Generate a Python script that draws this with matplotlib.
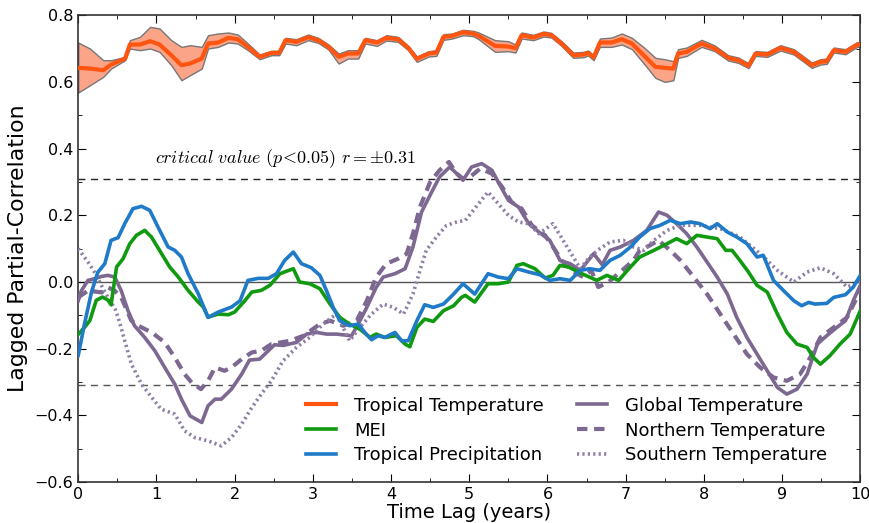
import matplotlib
matplotlib.use("Agg")
import matplotlib.pyplot as plt
from matplotlib.ticker import MultipleLocator

# tropical temperature (centre line and uncertainty band)
tt_x = [0.0, 0.15, 0.32, 0.42, 0.6, 0.66, 0.79, 0.92, 1.04, 1.19, 1.32, 1.43, 1.58, 1.66, 1.79,
        1.92, 2.04, 2.17, 2.32, 2.47, 2.57, 2.65, 2.79, 2.94, 3.07, 3.2, 3.33, 3.45, 3.58, 3.67,
        3.82, 3.94, 4.09, 4.22, 4.33, 4.48, 4.58, 4.67, 4.78, 4.92, 5.05, 5.12, 5.33, 5.5, 5.59,
        5.67, 5.82, 5.95, 6.05, 6.18, 6.33, 6.46, 6.52, 6.59, 6.67, 6.82, 6.95, 7.08, 7.25, 7.38,
        7.5, 7.61, 7.67, 7.78, 7.97, 8.14, 8.31, 8.44, 8.57, 8.66, 8.81, 8.98, 9.15, 9.38, 9.49,
        9.57, 9.66, 9.81, 9.96, 10.0]
tt_y = [0.642, 0.640, 0.635, 0.652, 0.670, 0.712, 0.712, 0.722, 0.712, 0.680, 0.650, 0.655, 0.670, 0.715, 0.718,
        0.732, 0.728, 0.705, 0.675, 0.687, 0.687, 0.725, 0.720, 0.734, 0.725, 0.705, 0.675, 0.685, 0.685, 0.725,
        0.718, 0.732, 0.728, 0.702, 0.669, 0.685, 0.688, 0.735, 0.738, 0.749, 0.745, 0.738, 0.708, 0.706, 0.701,
        0.740, 0.733, 0.744, 0.740, 0.715, 0.680, 0.682, 0.687, 0.673, 0.718, 0.718, 0.728, 0.715, 0.675, 0.645,
        0.642, 0.640, 0.685, 0.690, 0.715, 0.700, 0.672, 0.665, 0.648, 0.685, 0.682, 0.702, 0.690, 0.650, 0.660,
        0.662, 0.695, 0.690, 0.712, 0.712]
tt_lo = [0.568, 0.590, 0.615, 0.640, 0.665, 0.700, 0.695, 0.700, 0.690, 0.650, 0.605, 0.620, 0.640, 0.700, 0.705,
         0.718, 0.715, 0.695, 0.668, 0.680, 0.680, 0.715, 0.710, 0.725, 0.717, 0.697, 0.655, 0.670, 0.670, 0.715,
         0.708, 0.724, 0.720, 0.695, 0.660, 0.676, 0.678, 0.726, 0.730, 0.740, 0.737, 0.728, 0.690, 0.692, 0.688,
         0.730, 0.725, 0.736, 0.733, 0.708, 0.672, 0.674, 0.679, 0.665, 0.705, 0.705, 0.712, 0.698, 0.650, 0.612,
         0.600, 0.605, 0.672, 0.678, 0.705, 0.692, 0.664, 0.657, 0.641, 0.678, 0.675, 0.694, 0.682, 0.642, 0.652,
         0.654, 0.688, 0.683, 0.705, 0.705]
tt_hi = [0.718, 0.700, 0.665, 0.665, 0.675, 0.725, 0.735, 0.765, 0.760, 0.725, 0.705, 0.710, 0.705, 0.740, 0.745,
         0.748, 0.742, 0.715, 0.682, 0.693, 0.693, 0.732, 0.728, 0.742, 0.732, 0.712, 0.685, 0.695, 0.695, 0.732,
         0.725, 0.740, 0.735, 0.708, 0.676, 0.692, 0.695, 0.743, 0.745, 0.756, 0.753, 0.748, 0.725, 0.722, 0.712,
         0.748, 0.741, 0.751, 0.747, 0.722, 0.688, 0.690, 0.694, 0.680, 0.730, 0.733, 0.745, 0.732, 0.700, 0.672,
         0.668, 0.662, 0.698, 0.703, 0.726, 0.709, 0.680, 0.673, 0.656, 0.692, 0.690, 0.710, 0.698, 0.658, 0.668,
         0.670, 0.703, 0.698, 0.719, 0.719]

mei_x = [0.0, 0.08, 0.15, 0.23, 0.31, 0.38, 0.42, 0.49, 0.574, 0.66, 0.744, 0.85, 0.936, 1.04, 1.17,
         1.28, 1.405, 1.535, 1.6, 1.66, 1.79, 1.92, 2.0, 2.13, 2.22, 2.34, 2.45, 2.58, 2.75, 2.83,
         2.96, 3.09, 3.22, 3.345, 3.47, 3.6, 3.73, 3.81, 3.92, 4.07, 4.18, 4.24, 4.33, 4.43, 4.54,
         4.67, 4.8, 4.9, 4.95, 5.07, 5.24, 5.37, 5.5, 5.61, 5.69, 5.84, 5.97, 6.07, 6.16, 6.27,
         6.44, 6.63, 6.76, 6.91, 7.06, 7.18, 7.36, 7.53, 7.65, 7.78, 7.91, 8.04, 8.17, 8.28, 8.36,
         8.46, 8.57, 8.68, 8.81, 8.94, 9.06, 9.19, 9.32, 9.4, 9.49, 9.61, 9.74, 9.87, 10.0]
mei_y = [-0.157, -0.136, -0.115, -0.055, -0.045, -0.054, -0.068, 0.045, 0.07, 0.115, 0.14, 0.155, 0.135, 0.095, 0.045,
         0.015, -0.025, -0.06, -0.075, -0.105, -0.096, -0.098, -0.09, -0.056, -0.03, -0.025, -0.01, 0.025, 0.04, 0.0,
         -0.005, -0.02, -0.066, -0.106, -0.126, -0.141, -0.166, -0.156, -0.166, -0.161, -0.186, -0.194, -0.136, -0.111, -0.118,
         -0.086, -0.071, -0.046, -0.04, -0.06, -0.005, -0.005, 0.0, 0.05, 0.055, 0.04, 0.012, 0.02, 0.05, 0.045,
         0.025, 0.005, 0.02, 0.005, 0.045, 0.075, 0.095, 0.115, 0.13, 0.115, 0.14, 0.135, 0.13, 0.095, 0.095,
         0.065, 0.03, -0.01, -0.03, -0.096, -0.151, -0.186, -0.196, -0.226, -0.246, -0.221, -0.186, -0.156, -0.086]

prec_x = [0.0, 0.08, 0.17, 0.25, 0.34, 0.42, 0.51, 0.595, 0.7, 0.81, 0.915, 1.02, 1.15, 1.235, 1.32,
          1.405, 1.535, 1.66, 1.79, 1.96, 2.07, 2.17, 2.3, 2.43, 2.535, 2.64, 2.75, 2.855, 2.98, 3.09,
          3.175, 3.26, 3.345, 3.47, 3.58, 3.665, 3.75, 3.836, 3.92, 4.05, 4.135, 4.22, 4.33, 4.43, 4.54,
          4.67, 4.8, 4.92, 5.07, 5.24, 5.37, 5.5, 5.61, 5.76, 5.9, 6.03, 6.16, 6.29, 6.42, 6.54,
          6.67, 6.8, 6.93, 7.06, 7.18, 7.31, 7.44, 7.57, 7.7, 7.83, 7.95, 8.08, 8.17, 8.3, 8.42,
          8.55, 8.68, 8.76, 8.89, 9.02, 9.15, 9.25, 9.34, 9.42, 9.57, 9.66, 9.81, 9.91, 10.0]
prec_y = [-0.22, -0.126, -0.03, 0.029, 0.055, 0.125, 0.133, 0.175, 0.22, 0.227, 0.215, 0.165, 0.105, 0.095, 0.075,
          0.025, -0.035, -0.106, -0.09, -0.075, -0.056, 0.005, 0.011, 0.011, 0.025, 0.065, 0.09, 0.055, 0.043, 0.02,
          -0.026, -0.076, -0.116, -0.131, -0.126, -0.151, -0.173, -0.161, -0.166, -0.151, -0.176, -0.176, -0.116, -0.068, -0.076,
          -0.066, -0.036, -0.005, -0.036, 0.025, 0.015, 0.01, 0.04, 0.03, 0.022, 0.005, 0.01, 0.005, 0.035, 0.04,
          0.035, 0.065, 0.08, 0.105, 0.135, 0.16, 0.17, 0.185, 0.175, 0.18, 0.175, 0.16, 0.175, 0.15, 0.135,
          0.115, 0.075, 0.08, 0.005, -0.026, -0.056, -0.071, -0.061, -0.066, -0.064, -0.046, -0.038, -0.015, 0.02]

glob_x = [0.0, 0.04, 0.125, 0.21, 0.3, 0.38, 0.467, 0.55, 0.637, 0.72, 0.85, 0.98, 1.106, 1.235, 1.32,
          1.43, 1.58, 1.66, 1.75, 1.83, 1.96, 2.09, 2.19, 2.32, 2.43, 2.51, 2.62, 2.79, 2.92, 3.05,
          3.175, 3.3, 3.495, 3.58, 3.69, 3.81, 3.9, 4.05, 4.18, 4.28, 4.39, 4.52, 4.62, 4.75, 4.84,
          4.92, 5.03, 5.16, 5.29, 5.37, 5.5, 5.63, 5.76, 5.89, 6.03, 6.16, 6.29, 6.42, 6.59, 6.7,
          6.8, 6.93, 7.1, 7.27, 7.42, 7.53, 7.65, 7.78, 7.91, 8.04, 8.17, 8.3, 8.42, 8.55, 8.68,
          8.81, 8.94, 9.06, 9.19, 9.32, 9.45, 9.57, 9.7, 9.81, 9.91, 10.0]
glob_y = [-0.056, -0.026, 0.005, 0.01, 0.017, 0.02, 0.015, -0.026, -0.086, -0.131, -0.166, -0.206, -0.256, -0.306, -0.351,
          -0.401, -0.421, -0.371, -0.351, -0.351, -0.321, -0.276, -0.234, -0.231, -0.206, -0.188, -0.19, -0.181, -0.156, -0.151,
          -0.156, -0.156, -0.161, -0.126, -0.076, -0.016, 0.015, 0.025, 0.04, 0.105, 0.21, 0.27, 0.315, 0.345, 0.325,
          0.305, 0.345, 0.355, 0.335, 0.3, 0.245, 0.225, 0.175, 0.15, 0.125, 0.065, 0.055, 0.035, 0.085, 0.052,
          0.095, 0.105, 0.125, 0.155, 0.21, 0.2, 0.175, 0.145, 0.105, 0.06, 0.015, -0.036, -0.106, -0.166, -0.216,
          -0.266, -0.316, -0.336, -0.321, -0.276, -0.186, -0.161, -0.136, -0.116, -0.056, -0.01]

north_x = [0.0, 0.125, 0.3, 0.38, 0.467, 0.55, 0.68, 0.81, 0.94, 1.106, 1.235, 1.36, 1.45, 1.57, 1.66,
           1.75, 1.87, 1.96, 2.09, 2.22, 2.34, 2.47, 2.71, 2.88, 3.09, 3.22, 3.39, 3.56, 3.69, 3.81,
           3.94, 4.09, 4.2, 4.28, 4.37, 4.5, 4.62, 4.74, 4.84, 4.92, 5.01, 5.14, 5.29, 5.42, 5.54,
           5.67, 5.8, 5.97, 6.1, 6.18, 6.33, 6.46, 6.56, 6.65, 6.78, 6.93, 7.1, 7.18, 7.31, 7.42,
           7.57, 7.7, 7.87, 8.04, 8.21, 8.38, 8.55, 8.72, 8.89, 9.06, 9.23, 9.36, 9.49, 9.66, 9.83,
           10.0]
north_y = [-0.046, -0.026, -0.031, -0.016, -0.026, -0.046, -0.116, -0.136, -0.151, -0.181, -0.226, -0.276, -0.301, -0.321, -0.296,
           -0.256, -0.266, -0.256, -0.231, -0.211, -0.206, -0.186, -0.176, -0.161, -0.126, -0.116, -0.131, -0.116, -0.056, 0.015,
           0.055, 0.07, 0.085, 0.145, 0.225, 0.3, 0.335, 0.36, 0.325, 0.31, 0.315, 0.34, 0.325, 0.285, 0.24,
           0.22, 0.17, 0.14, 0.095, 0.065, 0.03, 0.015, 0.035, -0.015, 0.0, 0.03, 0.065, 0.095, 0.11, 0.125,
           0.095, 0.065, 0.015, -0.036, -0.096, -0.156, -0.216, -0.256, -0.286, -0.296, -0.276, -0.226, -0.166, -0.136, -0.106,
           -0.026]

south_x = [0.0, 0.14, 0.22, 0.31, 0.39, 0.47, 0.51, 0.595, 0.68, 0.81, 0.94, 1.06, 1.235, 1.36, 1.49,
           1.66, 1.83, 1.96, 2.09, 2.22, 2.34, 2.47, 2.62, 2.79, 2.96, 3.13, 3.3, 3.47, 3.62, 3.75,
           3.9, 4.03, 4.16, 4.28, 4.37, 4.45, 4.58, 4.71, 4.84, 4.95, 5.12, 5.24, 5.37, 5.5, 5.63,
           5.76, 5.89, 6.07, 6.2, 6.33, 6.42, 6.54, 6.67, 6.8, 6.97, 7.1, 7.23, 7.36, 7.53, 7.7,
           7.95, 8.21, 8.46, 8.72, 8.94, 9.15, 9.32, 9.49, 9.66, 9.83, 10.0]
south_y = [0.1, 0.055, 0.025, -0.016, -0.05, -0.08, -0.106, -0.176, -0.246, -0.306, -0.346, -0.381, -0.396, -0.446, -0.466,
           -0.476, -0.491, -0.466, -0.426, -0.376, -0.336, -0.296, -0.236, -0.196, -0.166, -0.126, -0.096, -0.176, -0.131, -0.096,
           -0.066, -0.076, -0.096, -0.036, 0.035, 0.095, 0.135, 0.17, 0.18, 0.185, 0.235, 0.27, 0.235, 0.2, 0.18,
           0.175, 0.145, 0.175, 0.125, 0.075, 0.04, 0.075, 0.1, 0.12, 0.125, 0.105, 0.095, 0.125, 0.155, 0.17,
           0.17, 0.16, 0.135, 0.085, 0.035, 0.0, 0.03, 0.043, 0.025, -0.015, 0.0]

crit = 0.31

orange = "#ff5511"
green = "#109a10"
blue = "#1f7ac8"
purple = "#7c6890"

fig = plt.figure(figsize=(8.69, 5.23), dpi=100)
ax = fig.add_axes([0.090, 0.078, 0.900, 0.893])

ax.axhline(0, color="#555555", lw=1.0, zorder=1)
ax.axhline(crit, color="#222222", lw=1.0, ls=(0, (5, 4)), zorder=1)
ax.axhline(-crit, color="#555555", lw=1.0, ls=(0, (5, 4)), zorder=1)

ax.fill_between(tt_x, tt_lo, tt_hi, facecolor="#fca487", edgecolor="#777777", lw=1.0, zorder=2)
ax.plot(tt_x, tt_y, color=orange, lw=3, label="Tropical Temperature", zorder=5)
ax.plot(mei_x, mei_y, color=green, lw=2.6, label="MEI", zorder=4)
ax.plot(prec_x, prec_y, color=blue, lw=2.6, label="Tropical Precipitation", zorder=4)
ax.plot(glob_x, glob_y, color=purple, lw=2.6, label="Global Temperature", zorder=3)
ax.plot(north_x, north_y, color=purple, lw=3, ls=(0, (2.5, 1.6)), label="Northern Temperature", zorder=3)
ax.plot(south_x, south_y, color="#8e7fa6", lw=2.6, ls=(0, (0.6, 0.9)), label="Southern Temperature", zorder=3)

ax.text(0.98, 0.37, r"$\mathit{critical\ value}\ (p\!<\!0.05)\ r=\pm0.31$",
        fontsize=13, math_fontfamily="cm", va="center", ha="left")

ax.set_xlim(0, 10)
ax.set_ylim(-0.6, 0.8)
ax.xaxis.set_major_locator(MultipleLocator(1))
ax.xaxis.set_minor_locator(MultipleLocator(0.5))
ax.yaxis.set_major_locator(MultipleLocator(0.2))
ax.yaxis.set_minor_locator(MultipleLocator(0.1))
ax.tick_params(which="both", direction="in", top=True, right=True, labelsize=11.5)
ax.tick_params(which="major", length=6)
ax.tick_params(which="minor", length=3)
for s in ax.spines.values():
    s.set_color("#333333")
    s.set_linewidth(1.2)

ax.set_xlabel("Time Lag (years)", fontsize=14, labelpad=1)
ax.set_ylabel("Lagged Partial-Correlation", fontsize=15.8, labelpad=5)

h, l = ax.get_legend_handles_labels()
ax.legend(h, l, ncol=2, frameon=False, fontsize=13, loc="upper left",
          bbox_to_anchor=(0.27, 0.218), handlelength=1.7, columnspacing=1.8,
          labelspacing=0.38, handletextpad=1.0)

fig.savefig("out.png", dpi=100)
